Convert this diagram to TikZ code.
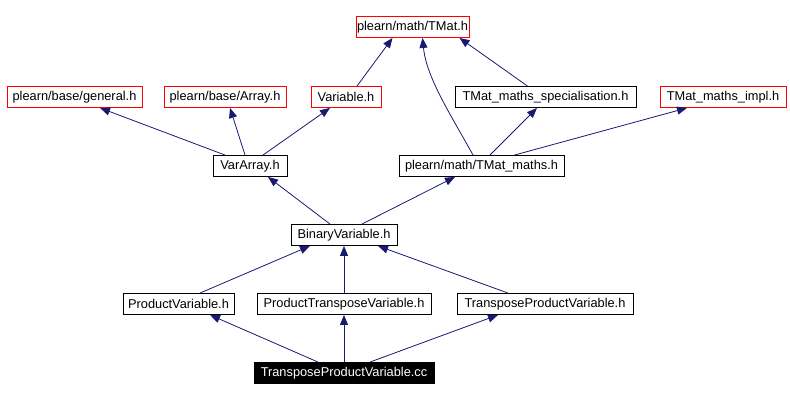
\documentclass[tikz,border=0pt]{standalone}
\usepackage{fontspec}
\setmainfont{Liberation Sans}
\usetikzlibrary{arrows.meta,calc}
\definecolor{edgeblue}{RGB}{25,25,112}
\begin{document}
\begin{tikzpicture}[x=1pt,y=1pt,
  box/.style={draw=black,line width=0.9pt,fill=white,inner sep=0pt,minimum height=21pt,font=\fontsize{12.8}{14}\selectfont},
  extbox/.style={box,draw=red},
  mainbox/.style={box,fill=black,text=white},
  dep/.style={draw=edgeblue,line width=0.8pt,-{Triangle[length=10pt,width=8pt]}}]
\useasboundingbox (0,0) rectangle (790,401);
\node[extbox,minimum width=113pt] (tmat) at (412.5,374) {plearn/math/TMat.h};
\node[extbox,minimum width=135pt] (general) at (74.5,304) {plearn/base/general.h};
\node[extbox,minimum width=122pt] (array) at (225,304) {plearn/base/Array.h};
\node[extbox,minimum width=70pt] (variable) at (346,304) {Variable.h};
\node[box,minimum width=181pt] (spec) at (545.5,304) {TMat\_maths\_specialisation.h};
\node[extbox,minimum width=126pt] (impl) at (723,304) {TMat\_maths\_impl.h};
\node[box,minimum width=74pt] (vararray) at (250,235) {VarArray.h};
\node[box,minimum width=165pt] (tmaths) at (481.5,235) {plearn/math/TMat\_maths.h};
\node[box,minimum width=106pt] (binary) at (344,166) {BinaryVariable.h};
\node[box,minimum width=111pt] (pv) at (178.5,97) {ProductVariable.h};
\node[box,minimum width=174pt] (ptv) at (344,97) {ProductTransposeVariable.h};
\node[box,minimum width=176pt] (tpv) at (545,97) {TransposeProductVariable.h};
\node[mainbox,minimum width=180pt] (cc) at (344,28) {TransposeProductVariable.cc};
% edges
\draw[dep] ([xshift=-25pt]vararray.north) -- ([xshift=25.5pt]general.south);
\draw[dep] ([xshift=-5pt]vararray.north) -- ([xshift=5pt]array.south);
\draw[dep] ([xshift=13pt]vararray.north) -- ([xshift=-16pt]variable.south);
\draw[dep] ([xshift=11pt]variable.north) -- ([xshift=-20pt]tmat.south);
\draw[dep] ([xshift=-18pt]spec.north) -- ([xshift=47pt]tmat.south);
\draw[dep] ([xshift=-8.5pt]tmaths.north) .. controls +(-22,40) and +(4,-40) .. ([xshift=10pt]tmat.south);
\draw[dep] ([xshift=8.5pt]tmaths.north) -- ([xshift=-8.5pt]spec.south);
\draw[dep] ([xshift=33pt]tmaths.north) -- ([xshift=-36pt]impl.south);
\draw[dep] ([xshift=-14pt]binary.north) -- ([xshift=18pt]vararray.south);
\draw[dep] ([xshift=18pt]binary.north) -- ([xshift=-26.5pt]tmaths.south);
\draw[dep] ([xshift=21.5pt]pv.north) -- ([xshift=-34pt]binary.south);
\draw[dep] (ptv.north) -- (binary.south);
\draw[dep] ([xshift=-37pt]tpv.north) -- ([xshift=34pt]binary.south);
\draw[dep] ([xshift=-26pt]cc.north) -- ([xshift=31.5pt]pv.south);
\draw[dep] (cc.north) -- (ptv.south);
\draw[dep] ([xshift=26pt]cc.north) -- ([xshift=-47pt]tpv.south);
\end{tikzpicture}
\end{document}
